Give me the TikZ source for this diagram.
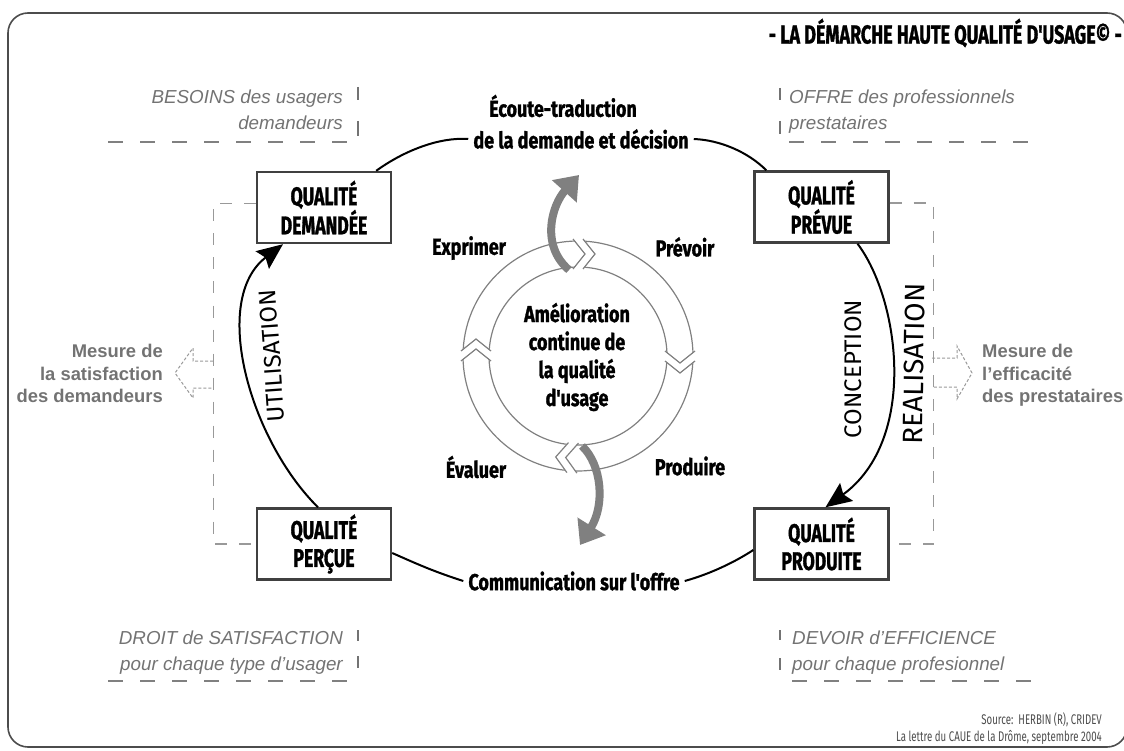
\documentclass[tikz,border=0pt]{standalone}
\usepackage{fontspec}
\setmainfont{Liberation Sans}
\newfontfamily\condfont[FakeStretch=0.69, BoldFeatures={FakeBold=1.2}]{Fira Sans}
\newfontfamily\labfont[FakeStretch=0.78, BoldFeatures={FakeBold=1.2}]{Fira Sans}
\newfontfamily\arcfont{Fira Sans}
\usetikzlibrary{arrows.meta}

\begin{document}
\begin{tikzpicture}[x=1pt, y=-1pt,
    qbox/.style={draw=black!75, line width=2.4pt, fill=white, minimum width=134pt,
      minimum height=71pt, align=center, inner sep=0pt,
      font=\condfont\bfseries\fontsize{25.5}{28}\selectfont},
    lab/.style={inner sep=5pt, font=\labfont\bfseries\fontsize{23}{28}\selectfont},
    sidenote/.style={inner sep=0pt, text=black!55, font=\itshape\fontsize{18.8}{25.5}\selectfont},
    mesure/.style={inner sep=0pt, text=black!55, font=\bfseries\fontsize{18.4}{22.5}\selectfont},
    arctext/.style={inner sep=0pt, font=\arcfont\fontsize{24}{28}\selectfont},
    sep/.style={draw=black!50, line width=2pt, dash pattern=on 15pt off 17pt},
    vbar/.style={draw=black!55, line width=1.3pt},
    bracket/.style={draw=black!40, line width=1.1pt, dash pattern=on 12pt off 12pt},
    dotarrow/.style={draw=black!40, line width=1pt, dash pattern=on 3pt off 2pt},
    loopline/.style={draw=black, line width=2pt},
    ringline/.style={draw=black!50, line width=1.2pt},
    grayflow/.style={draw=black!50, line width=8pt}]
  \useasboundingbox (0,0) rectangle (1124,751);
  \draw[draw=black!70, line width=1.6pt, rounded corners=20pt] (8,13) rectangle (1127,747);

  % titre et source
  \node[anchor=east, inner sep=0pt, font=\condfont\bfseries\fontsize{26}{30}\selectfont]
    (titre) at (1122,33) {- LA DÉMARCHE HAUTE QUALITÉ D'USAGE\textcopyright{} -};
  \node[anchor=north east, align=right, inner sep=0pt, text=black!70,
        font=\condfont\fontsize{14}{17}\selectfont]
    (source) at (1102,712) {Source:\ \ HERBIN (R), CRIDEV\\La lettre du CAUE de la Drôme, septembre 2004};

  % demandeurs / prestataires
  \node[sidenote, anchor=north east, align=right] (besoins) at (343,90) {BESOINS des usagers\\demandeurs};
  \node[sidenote, anchor=north west, align=left] (offre) at (789,90) {OFFRE des professionnels\\prestataires};
  \node[sidenote, anchor=north east, align=right] (droit) at (343,631) {DROIT de SATISFACTION\\pour chaque type d'usager};
  \node[sidenote, anchor=north west, align=left] (devoir) at (792,631) {DEVOIR d'EFFICIENCE\\pour chaque profesionnel};
  \draw[sep] (108,142) -- (351,142);
  \draw[sep] (789,142) -- (1032,142);
  \draw[sep] (108,681) -- (351,681);
  \draw[sep] (792,681) -- (1032,681);
  \foreach \x/\ya/\yb in {358/87/100, 358/121/136, 780/88/100, 780/121/134,
                          358/630/641, 358/656/668, 780/630/640, 780/658/670}
    \draw[vbar] (\x,\ya) -- (\x,\yb);

  % les quatre qualites
  \node[qbox] (dem) at (324,207.5) {QUALITÉ\\DEMANDÉE};
  \node[qbox] (prev) at (821.5,207) {QUALITÉ\\PRÉVUE};
  \node[qbox] (perc) at (324,544) {QUALITÉ\\PERÇUE};
  \node[qbox] (prod) at (821.5,544) {QUALITÉ\\PRODUITE};

  \node[lab] (ecoute) at (563,106) {Écoute-traduction};
  \node[lab] (decision) at (581,139) {de la demande et décision};
  \node[lab] (comm) at (574,581) {Communication sur l'offre};

  \draw[loopline] ([xshift=-16pt]dem.north east) .. controls (405,150) and (440,137) .. (decision.west);
  \draw[loopline] (decision.east) .. controls (720,140) and (748,152) .. ([xshift=13pt]prev.north west);
  \draw[loopline] ([yshift=-9pt]perc.east) .. controls (415,563) and (432,571) .. (comm.west);
  \draw[loopline] (comm.east) .. controls (710,574) and (735,562) .. ([yshift=-6pt]prod.west);
  \draw[loopline, -{Stealth[length=26pt, width=22pt, inset=4pt]}]
    ([xshift=-6pt]perc.north) .. controls (250,440) and (210,300) .. ([xshift=-41pt]dem.south);
  \draw[loopline, -{Stealth[length=26pt, width=22pt, inset=4pt]}]
    ([xshift=36pt]prev.south) .. controls (900,300) and (918,440) .. ([xshift=4pt]prod.north);
  \node[arctext, rotate=94] (utilisation) at (272,356) {UTILISATION};
  \node[arctext, rotate=90] (conception) at (853,369) {CONCEPTION};
  \node[arctext, rotate=89, font=\arcfont\fontsize{28}{32}\selectfont] (realisation) at (914,364) {REALISATION};

  % mesures
  \draw[bracket] ([yshift=4pt]dem.west) -- ++(-42,0) |- (perc.west);
  \draw[bracket] ([yshift=4pt]prev.east) -- ++(44,0) |- (prod.east);
  \draw[dotarrow] (213,361) -- (193,361) -- (193,348) -- (175,373) -- (193,398) -- (193,388) -- (213,388);
  \draw[dotarrow] (932,358) -- (957,358) -- (957,346) -- (972,373) -- (957,399) -- (957,387) -- (932,387);
  \node[mesure, anchor=north east, align=right] (satis) at (163,344) {Mesure de\\la satisfaction\\des demandeurs};
  \node[mesure, anchor=north west, align=left] (effic) at (982,344) {Mesure de\\l'efficacité\\des prestataires};

  % roue d'amelioration
  \draw[ringline] (578,356) circle[radius=115pt];
  \draw[ringline] (578,356) circle[radius=89pt];
  \foreach \r in {0,-90,177,90} {
    \begin{scope}[shift={(578,356)}, rotate=\r]
      \fill[white] (-5,-118) -- (7,-102) -- (-5,-86) -- (5,-86) -- (17,-102) -- (5,-118) -- cycle;
      \draw[ringline] (-5,-117) -- (7,-102) -- (-5,-87);
      \draw[ringline] (5,-117) -- (17,-102) -- (5,-87);
    \end{scope}
  }
  \draw[grayflow, -{Triangle[length=22pt, width=32pt]}] (569,270) .. controls (540,245) and (552,205) .. (579,175);
  \draw[grayflow, -{Triangle[length=22pt, width=32pt]}] (582,446) .. controls (602,465) and (605,505) .. (580,545);
  \node[lab, align=center] (amelio) at (577,357) {Amélioration\\continue de\\la qualité\\d'usage};
  \node[lab] (exprimer) at (469,248) {Exprimer};
  \node[lab] (prevoir) at (685,247) {Prévoir};
  \node[lab] (evaluer) at (476,467) {Évaluer};
  \node[lab] (produire) at (690,466) {Produire};
\end{tikzpicture}
\end{document}
